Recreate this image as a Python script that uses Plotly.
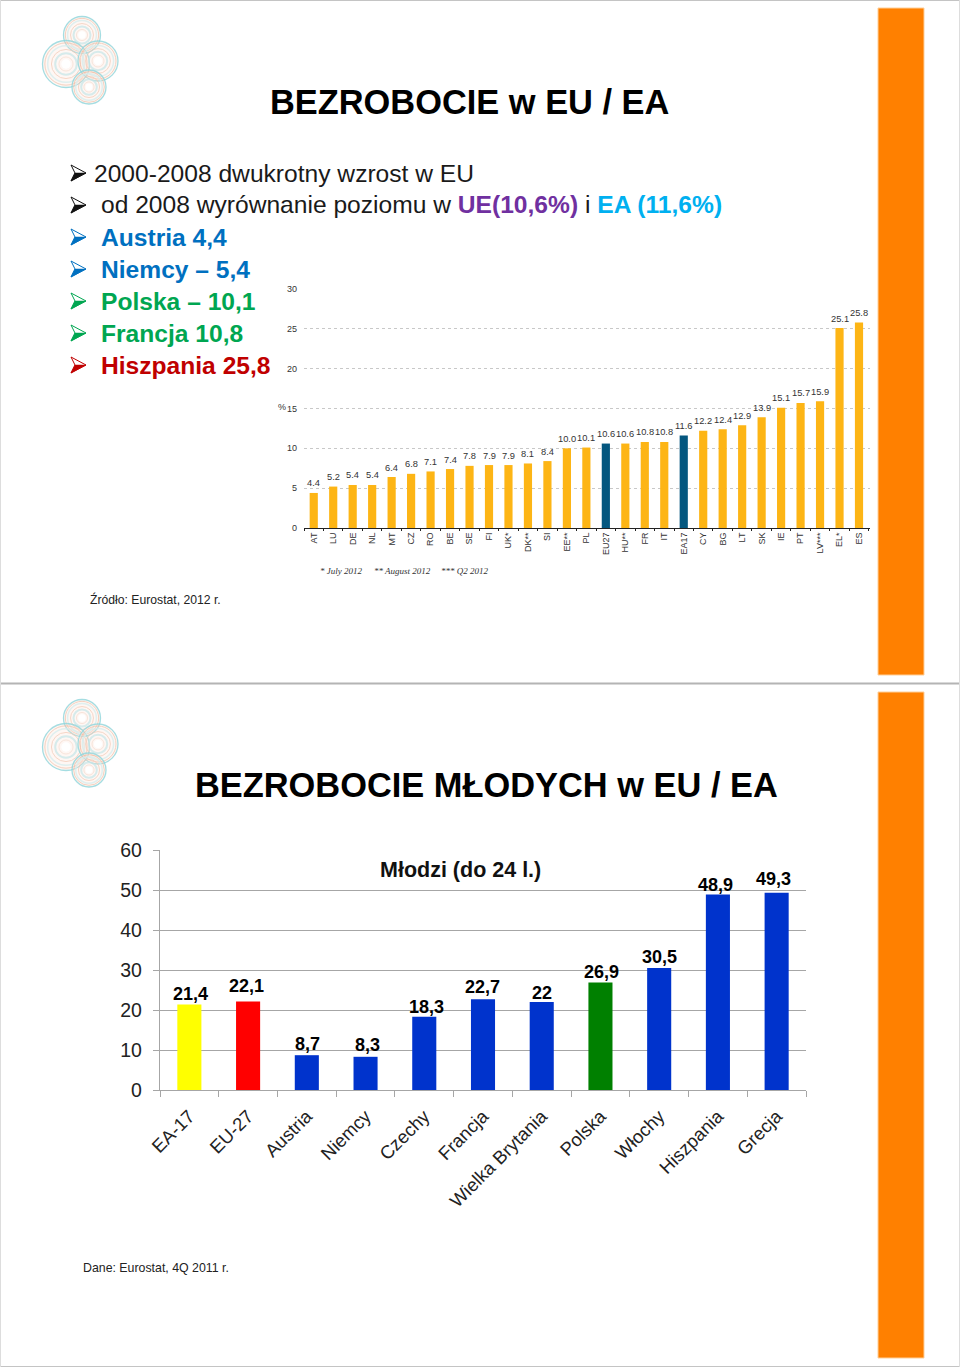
import plotly.graph_objects as go

W = 960
H = 1367

# upper chart (unemployment, Eurostat 2012)
countries = ["AT", "LU", "DE", "NL", "MT", "CZ", "RO", "BE", "SE", "FI", "UK*", "DK**", "SI", "EE**", "PL",
             "EU27", "HU**", "FR", "IT", "EA17", "CY", "BG", "LT", "SK", "IE", "PT", "LV***", "EL*", "ES"]
rates = [4.4, 5.2, 5.4, 5.4, 6.4, 6.8, 7.1, 7.4, 7.8, 7.9, 7.9, 8.1, 8.4, 10.0, 10.1,
         10.6, 10.6, 10.8, 10.8, 11.6, 12.2, 12.4, 12.9, 13.9, 15.1, 15.7, 15.9, 25.1, 25.8]
aggregates = ["EU27", "EA17"]

# lower chart (youth unemployment, 4Q 2011)
groups = ["EA-17", "EU-27", "Austria", "Niemcy", "Czechy", "Francja", "Wielka Brytania",
          "Polska", "Włochy", "Hiszpania", "Grecja"]
youth = [21.4, 22.1, 8.7, 8.3, 18.3, 22.7, 22, 26.9, 30.5, 48.9, 49.3]
youth_labels = ["21,4", "22,1", "8,7", "8,3", "18,3", "22,7", "22", "26,9", "30,5", "48,9", "49,3"]
youth_colors = ["#ffff00", "#ff0000", "#0033cc", "#0033cc", "#0033cc", "#0033cc", "#0033cc",
                "#008000", "#0033cc", "#0033cc", "#0033cc"]
# the labels are hand placed in the original, not centred the same over every bar
youth_shift = [10, 16, 11, 12, 10, 12, 9, 10, 11, 9, 14]
youth_xshift = [1, -2, 1, 2, 2, -1, 0, 1, 0, -2, -3]

bullets = [
    (92, 173, "#111111", [("2000-2008 dwukrotny wzrost w EU", "#1a1a1a", False)]),
    (99, 205, "#111111", [("od 2008 wyrównanie poziomu w ", "#1a1a1a", False), ("UE(10,6%)", "#7030a0", True),
                          (" i ", "#1a1a1a", False), ("EA (11,6%)", "#00b0f0", True)]),
    (99, 237, "#0070c0", [("Austria 4,4", "#0070c0", True)]),
    (99, 269, "#0070c0", [("Niemcy – 5,4", "#0070c0", True)]),
    (99, 301, "#00a651", [("Polska – 10,1", "#00a651", True)]),
    (99, 333, "#00a651", [("Francja 10,8", "#00a651", True)]),
    (99, 365, "#c00000", [("Hiszpania 25,8", "#c00000", True)]),
]


def px(x):
    return x / W


def py(y):
    return 1 - y / H


def note(x, y, text, size, color="#000000", bold=False, font="Liberation Sans", anchor="left"):
    if bold:
        text = "<b>" + text + "</b>"
    fig.add_annotation(x=px(x), y=py(y), xref="paper", yref="paper", text=text, showarrow=False,
                       xanchor=anchor, yanchor="middle",
                       font=dict(family=font, size=size, color=color))


def poly(points):
    return "M " + " L ".join(f"{px(a):.5f},{py(b):.5f}" for a, b in points) + " Z"


def arrow(y, color):
    # bullet arrowhead: outlined, with the lower half filled
    x0 = 71
    outline = [(x0, y - 8), (x0 + 15, y), (x0, y + 8), (x0 + 4, y)]
    lower = [(x0 + 4, y), (x0 + 15, y), (x0, y + 8)]
    fig.add_shape(type="path", xref="paper", yref="paper", path=poly(outline),
                  fillcolor="#ffffff", line=dict(color=color, width=1))
    fig.add_shape(type="path", xref="paper", yref="paper", path=poly(lower),
                  fillcolor=color, line=dict(color=color, width=0.5))


def logo(dy):
    # concentric rings, teal and salmon
    for cx, cy, r in [(82, 35, 18.5), (66, 64, 23.5), (98, 61, 20), (89, 87, 17)]:
        fig.add_shape(type="circle", xref="paper", yref="paper",
                      x0=px(cx - r), x1=px(cx + r), y0=py(cy + dy + r), y1=py(cy + dy - r),
                      fillcolor="rgba(250,225,210,0.25)", line_width=0)
        for k, col, w, op in [(1.0, "#8fd6dc", 1.3, 0.8), (0.9, "#f0b89c", 1, 0.6), (0.78, "#d8eeee", 1.5, 0.8),
                              (0.62, "#f3c9b4", 1, 0.7), (0.46, "#c6e6e8", 2, 0.7), (0.3, "#f8e3d8", 1, 0.9)]:
            rr = r * k
            fig.add_shape(type="circle", xref="paper", yref="paper", opacity=op,
                          x0=px(cx - rr), x1=px(cx + rr), y0=py(cy + dy + rr), y1=py(cy + dy - rr),
                          line=dict(color=col, width=w))
        rr = r * 0.2
        fig.add_shape(type="circle", xref="paper", yref="paper",
                      x0=px(cx - rr), x1=px(cx + rr), y0=py(cy + dy + rr), y1=py(cy + dy - rr),
                      fillcolor="#ffffff", line_width=0)


fig = go.Figure()

fig.add_trace(go.Bar(
    x=countries, y=rates, xaxis="x", yaxis="y", width=0.42,
    marker=dict(color=["#04577f" if c in aggregates else "#fdb515" for c in countries], line_width=0),
))
fig.add_trace(go.Bar(
    x=groups, y=youth, xaxis="x2", yaxis="y2", width=0.41,
    marker=dict(color=youth_colors, line_width=0),
))

fig.update_layout(
    template="none",
    width=W, height=H, autosize=False, margin=dict(l=0, r=0, t=0, b=0),
    paper_bgcolor="#ffffff", plot_bgcolor="rgba(0,0,0,0)", showlegend=False,
    xaxis=dict(domain=[px(304), px(870)], anchor="y", tickangle=-90, type="category", automargin=False,
               tickfont=dict(family="Liberation Sans", size=9, color="#333333"), tickson="boundaries",
               showline=True, linecolor="#222222", linewidth=1, ticks="outside", ticklen=2, tickcolor="#222222",
               showgrid=False, zeroline=False),
    yaxis=dict(domain=[py(528), py(289)], anchor="x", range=[0, 30], dtick=5, automargin=False,
               tickfont=dict(family="Liberation Sans", size=9, color="#333333"), ticklabelstandoff=6,
               gridcolor="#c8c8c8", griddash="dot", gridwidth=1, zeroline=False, ticks="", showline=False),
    xaxis2=dict(domain=[px(160), px(806)], anchor="y2", tickangle=-45, type="category", automargin=False,
                tickfont=dict(family="Liberation Sans", size=18.5, color="#222222"), tickson="boundaries",
                ticklabelstandoff=7,
                showline=True, linecolor="#a6a6a6", linewidth=1.3, ticks="outside", ticklen=6, tickcolor="#a6a6a6",
                tickwidth=1.3, showgrid=False, zeroline=False),
    yaxis2=dict(domain=[py(1090), py(850)], anchor="x2", range=[0, 60], dtick=10, automargin=False,
                tickfont=dict(family="Liberation Sans", size=19.5, color="#222222"), ticklabelstandoff=7,
                gridcolor="#a6a6a6", gridwidth=1.3, zeroline=False, showline=True, linecolor="#a6a6a6",
                linewidth=1.3, ticks="outside", ticklen=6, tickcolor="#a6a6a6", tickwidth=1.3),
)

# value labels, placed through the data axes
for c, v in zip(countries, rates):
    fig.add_annotation(x=c, y=v, xref="x", yref="y", text=f"{v:.1f}", showarrow=False, yshift=9.5,
                       yanchor="middle", font=dict(family="Liberation Sans", size=9.3, color="#333333"))
for g, v, t, s, dx in zip(groups, youth, youth_labels, youth_shift, youth_xshift):
    fig.add_annotation(x=g, y=v, xref="x2", yref="y2", text=f"<b>{t}</b>", showarrow=False, yshift=s, xshift=dx,
                       yanchor="middle", font=dict(family="Liberation Sans", size=18, color="#000000"))

# slide frames and orange side bars
for y0, y1 in [(8, 675), (692, 1358)]:
    fig.add_shape(type="rect", xref="paper", yref="paper", layer="below", x0=px(878), x1=px(924),
                  y0=py(y1), y1=py(y0), fillcolor="#ff8000", line=dict(color="#ffcf99", width=1))
for y, w, col in [(0.5, 1, "#c4c4c4"), (683.5, 2, "#b4b4b4"), (1366.5, 1, "#c4c4c4")]:
    fig.add_shape(type="line", xref="paper", yref="paper", x0=0, x1=1, y0=py(y), y1=py(y),
                  line=dict(color=col, width=w))
for x in [0.5, 959.5]:
    fig.add_shape(type="line", xref="paper", yref="paper", x0=px(x), x1=px(x), y0=0, y1=1,
                  line=dict(color="#dddddd", width=1))

logo(0)
logo(683)

note(469, 102, "BEZROBOCIE w EU / EA", 34.4, bold=True, anchor="center")
note(486, 785, "BEZROBOCIE MŁODYCH w EU / EA", 34.4, bold=True, anchor="center")

for x, y, col, parts in bullets:
    arrow(y, col)
    text = "".join(
        f'<span style="color:{c}">{"<b>" + s + "</b>" if b else s}</span>' for s, c, b in parts
    )
    note(x, y, text, 24.6)

note(276, 407, "%", 9, color="#333333")
note(318, 571, "<i>* July 2012</i>", 9, color="#333333", font="Liberation Serif")
note(372, 571, "<i>** August 2012</i>", 9, color="#333333", font="Liberation Serif")
note(439, 571, "<i>*** Q2 2012</i>", 9, color="#333333", font="Liberation Serif")
note(88, 599, "Źródło: Eurostat, 2012 r.", 12.2, color="#222222")
note(460, 870, "Młodzi (do 24 l.)", 21.5, bold=True, anchor="center", color="#111111")
note(81, 1268, "Dane: Eurostat, 4Q 2011 r.", 12.35, color="#222222")

fig.write_html("out.html", config=dict(displayModeBar=False),
               post_script="document.body.style.margin='0';document.documentElement.style.overflow='hidden';")
